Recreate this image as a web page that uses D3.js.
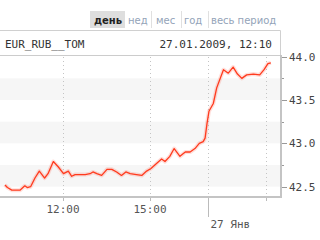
<!DOCTYPE html>
<html>
<head>
<meta charset="utf-8">
<script src="https://cdn.jsdelivr.net/npm/d3@7"></script>
<style>
  body { margin: 0; background: #fff; }
  svg { display: block; }
</style>
</head>
<body>
<div id="chart"></div>
<script>
const WIDTH = 320, HEIGHT = 240;
const PLOT = {left: 0, right: 280, top: 55, bottom: 197};

// data
const times = ["10:00","10:05","10:14","10:31","10:41","10:46","10:53","11:02","11:11","11:22",
  "11:29","11:40","11:50","12:01","12:11","12:18","12:25","12:35","12:46","12:56",
  "13:02","13:10","13:20","13:31","13:41","13:51","14:01","14:10","14:19","14:32",
  "14:43","14:53","15:02","15:10","15:24","15:31","15:41","15:50","16:02","16:13",
  "16:23","16:33","16:42","16:50","16:54","16:58","17:02","17:11","17:18","17:32",
  "17:42","17:52","18:01","18:10","18:20","18:34","18:47","18:56","19:04","19:10"];
const prices = [42.52,42.49,42.46,42.46,42.51,42.49,42.50,42.60,42.68,42.60,
  42.65,42.79,42.73,42.65,42.68,42.62,42.64,42.64,42.64,42.65,
  42.67,42.65,42.63,42.70,42.70,42.67,42.63,42.67,42.65,42.64,
  42.63,42.68,42.71,42.75,42.82,42.79,42.85,42.94,42.85,42.90,
  42.90,42.94,43.00,43.02,43.06,43.23,43.37,43.46,43.64,43.85,
  43.81,43.88,43.80,43.75,43.79,43.80,43.79,43.85,43.92,43.93];

const yTicks = [42.5, 43.0, 43.5, 44.0];
const yMinor = [42.75, 43.25, 43.75];
const xGrid = ["12:00", "15:00", "19:00"];
const xLabels = ["12:00", "15:00"];
const dayMark = {time: "17:00", label: "27 Янв"};
const tabs = ["день", "нед", "мес", "год", "весь период"];
const ticker = "EUR_RUB__TOM";
const stamp = "27.01.2009, 12:10";

const toH = s => { const p = s.split(":"); return +p[0] + p[1] / 60; };
const data = times.map((t, i) => ({h: toH(t), v: prices[i]}));

const x = d3.scaleLinear().domain([9.8276, 19.483]).range([PLOT.left, PLOT.right]);
const y = d3.scaleLinear().domain([42.381, 44.0196]).range([PLOT.bottom, PLOT.top]);

const svg = d3.select("#chart").append("svg")
  .attr("width", WIDTH).attr("height", HEIGHT);

const mono = "'DejaVu Sans Mono', monospace";

// tabs
const tabX = [91, 128, 156, 184, 211];
const tabW = [34, 20, 22, 21, 67];
svg.append("rect").attr("x", 90).attr("y", 11).attr("width", 35).attr("height", 17).attr("fill", "#dedede");
tabs.forEach((t, i) => {
  svg.append("text")
    .attr("x", tabX[i] + (i === 0 ? 3 : 0)).attr("y", 24)
    .attr("font-family", "'DejaVu Sans', sans-serif").attr("font-size", 10)
    .attr("font-weight", i === 0 ? "bold" : "normal")
    .attr("fill", i === 0 ? "#222" : "#93a3b8")
    .text(t);
  if (i > 0 && i < tabs.length - 1) {
    svg.append("line")
      .attr("x1", tabX[i] + tabW[i] + 3.5).attr("x2", tabX[i] + tabW[i] + 3.5)
      .attr("y1", 11).attr("y2", 28).attr("stroke", "#e0e0e0");
  }
});

// header box
svg.append("path")
  .attr("d", "M0,30.5H280.5V55")
  .attr("fill", "none").attr("stroke", "#d0d0d0");
svg.append("text").attr("x", 5).attr("y", 48)
  .attr("font-family", mono).attr("font-size", 11).attr("fill", "#333").text(ticker);
svg.append("text").attr("x", 272).attr("y", 48).attr("text-anchor", "end")
  .attr("font-family", mono).attr("font-size", 11).attr("fill", "#333").text(stamp);

// bands
const bandEdges = [42.5, 42.75, 43.0, 43.25, 43.5, 43.75];
bandEdges.forEach((b, i) => {
  if (i % 2 === 0) {
    svg.append("rect")
      .attr("x", PLOT.left).attr("width", PLOT.right - PLOT.left)
      .attr("y", y(b + 0.25)).attr("height", y(b) - y(b + 0.25))
      .attr("fill", "#f6f6f6");
  }
});

// header bottom line
svg.append("line").attr("x1", 0).attr("x2", 281).attr("y1", 55.5).attr("y2", 55.5).attr("stroke", "#ccc");

// vertical dotted grid
svg.selectAll(".vgrid").data(xGrid.concat([dayMark.time])).join("line")
  .attr("x1", d => Math.round(x(toH(d))) + 0.5).attr("x2", d => Math.round(x(toH(d))) + 0.5)
  .attr("y1", PLOT.top + 2).attr("y2", PLOT.bottom)
  .attr("stroke", "#c4c4c4").attr("stroke-dasharray", "1,3");

// line with soft halo
const line = d3.line().x(d => x(d.h)).y(d => y(d.v));
svg.append("path").datum(data).attr("d", line)
  .attr("fill", "none").attr("stroke", "rgba(255,90,70,0.2)").attr("stroke-width", 4)
  .attr("stroke-linejoin", "round");
svg.append("path").datum(data).attr("d", line)
  .attr("fill", "none").attr("stroke", "#ff3b1e").attr("stroke-width", 1.3)
  .attr("stroke-linejoin", "round");

// plot borders
svg.append("line").attr("x1", 0).attr("x2", 282).attr("y1", 197).attr("y2", 197)
  .attr("stroke", "#c4c4c4").attr("stroke-width", 2);
svg.append("line").attr("x1", 281).attr("x2", 281).attr("y1", 55).attr("y2", 198)
  .attr("stroke", "#c4c4c4").attr("stroke-width", 2);

// y axis
const yAxis = svg.append("g").attr("transform", "translate(282,0)");
yAxis.selectAll(".maj").data(yTicks).join("line")
  .attr("x1", 0).attr("x2", 5).attr("y1", d => Math.round(y(d)) + 0.5).attr("y2", d => Math.round(y(d)) + 0.5)
  .attr("stroke", "#999");
yAxis.selectAll(".min").data(yMinor).join("line")
  .attr("x1", 0).attr("x2", 2).attr("y1", d => Math.round(y(d)) + 0.5).attr("y2", d => Math.round(y(d)) + 0.5)
  .attr("stroke", "#999");
yAxis.selectAll("text").data(yTicks).join("text")
  .attr("x", 7).attr("y", d => y(d) + 4)
  .attr("font-family", mono).attr("font-size", 11).attr("fill", "#444")
  .text(d => d3.format(".1f")(d));

// x axis
svg.selectAll(".xt").data(xGrid).join("line")
  .attr("x1", d => Math.round(x(toH(d))) + 0.5).attr("x2", d => Math.round(x(toH(d))) + 0.5)
  .attr("y1", 198).attr("y2", 201).attr("stroke", "#bbb");
svg.selectAll(".xl").data(xLabels).join("text")
  .attr("x", d => x(toH(d))).attr("y", 213).attr("text-anchor", "middle")
  .attr("font-family", mono).attr("font-size", 11).attr("fill", "#555")
  .text(d => d);
const dx = Math.round(x(toH(dayMark.time))) + 0.5;
svg.append("line").attr("x1", dx).attr("x2", dx).attr("y1", 198).attr("y2", 217).attr("stroke", "#bbb");
svg.append("text").attr("x", dx + 2).attr("y", 228)
  .attr("font-family", mono).attr("font-size", 11).attr("fill", "#555")
  .text(dayMark.label);
</script>
</body>
</html>
